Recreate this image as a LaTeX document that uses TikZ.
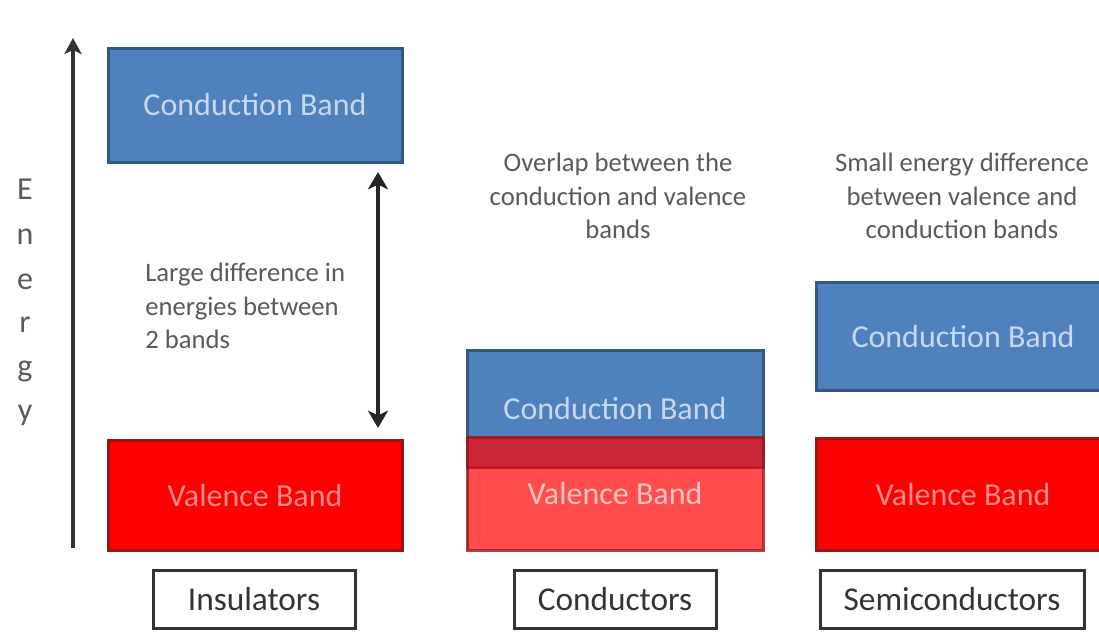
\documentclass[tikz,border=0pt]{standalone}
\usepackage{fontspec}
\setmainfont{Carlito}
\usetikzlibrary{arrows.meta}
\definecolor{cbfill}{HTML}{4F81BD}
\definecolor{cbdraw}{HTML}{34577F}
\definecolor{cbtext}{HTML}{C6D9F1}
\definecolor{vbfill}{HTML}{FF0000}
\definecolor{vbdraw}{HTML}{9A1515}
\definecolor{vbtext}{HTML}{FF8C8C}
\definecolor{vbtextlight}{HTML}{FFC4C4}
\definecolor{ink}{HTML}{333333}
\definecolor{notegray}{HTML}{5A5A5A}
\begin{document}
\begin{tikzpicture}[x=0.75pt,y=-0.75pt]
\useasboundingbox (0,0) rectangle (1099,633);
\clip (0,0) rectangle (1099,633);
\tikzset{
  band/.style={rectangle, line width=2.25pt, inner sep=0pt, font=\fontsize{24}{28}\selectfont},
  cband/.style={band, fill=cbfill, draw=cbdraw, text=cbtext},
  vband/.style={band, fill=vbfill, draw=vbdraw, text=vbtext},
  kind/.style={rectangle, draw=ink, line width=2.25pt, fill=white, text=ink, inner sep=0pt,
    minimum height=43.5pt, font=\fontsize{25}{30}\selectfont},
  notetext/.style={text=notegray, font=\fontsize{20}{25}\selectfont, inner sep=0pt},
  letter/.style={text=notegray, font=\fontsize{24}{28}\selectfont, inner sep=0pt},
  axisline/.style={draw=ink, line width=3pt, -{Stealth[length=12pt,width=13pt,inset=3pt]}},
  gapline/.style={draw=black!85, line width=3.2pt, {Stealth[length=13pt,width=15pt,inset=3.5pt]}-{Stealth[length=13pt,width=15pt,inset=3.5pt]}}
}

% Insulators
\node[cband, minimum width=220.5pt, minimum height=85.5pt] (icb) at (255,105) {Conduction Band};
\node[vband, minimum width=220.5pt, minimum height=82.5pt] (ivb) at (255,495) {Valence Band};
\coordinate (gt) at (378,172);
\coordinate (gb) at (378,428);
\draw[gapline] (gt) -- (gb);
\node[notetext, anchor=west, align=left] (gapnote) at (145,306) {Large difference in\\energies between\\2 bands};
\node[kind, minimum width=151.5pt] (ins) at (254,599) {Insulators};

% Energy axis
\coordinate (ab) at (73,548);
\coordinate (at) at (73,38);
\draw[axisline] (ab) -- (at);
\node[letter] (l1) at (25,189) {E};
\node[letter] (l2) at (25,237) {n};
\node[letter] (l3) at (25,282) {e};
\node[letter] (l4) at (25,325) {r};
\node[letter] (l5) at (25,371) {g};
\node[letter] (l6) at (25,415) {y};

% Conductors
\node[cband, minimum width=222pt, minimum height=87.75pt] (ccb) at (615,408.5) {Conduction Band};
\node[vband, minimum width=222pt, minimum height=84.75pt, fill opacity=0.7, draw opacity=0.8, text opacity=1, text=vbtextlight] (cvb) at (615,493.5) {Valence Band};
\node[notetext, align=center] (cnote) at (618,196) {Overlap between the\\conduction and valence\\bands};
\node[kind, minimum width=151.5pt] (con) at (615,599) {Conductors};

% Semiconductors
\node[cband, minimum width=220.5pt, minimum height=81pt] (scb) at (963,336) {Conduction Band};
\node[vband, minimum width=220.5pt, minimum height=84pt] (svb) at (963,494) {Valence Band};
\node[notetext, align=center] (snote) at (962,196) {Small energy difference\\between valence and\\conduction bands};
\node[kind, minimum width=198pt] (sem) at (952,599) {Semiconductors};
\end{tikzpicture}
\end{document}
